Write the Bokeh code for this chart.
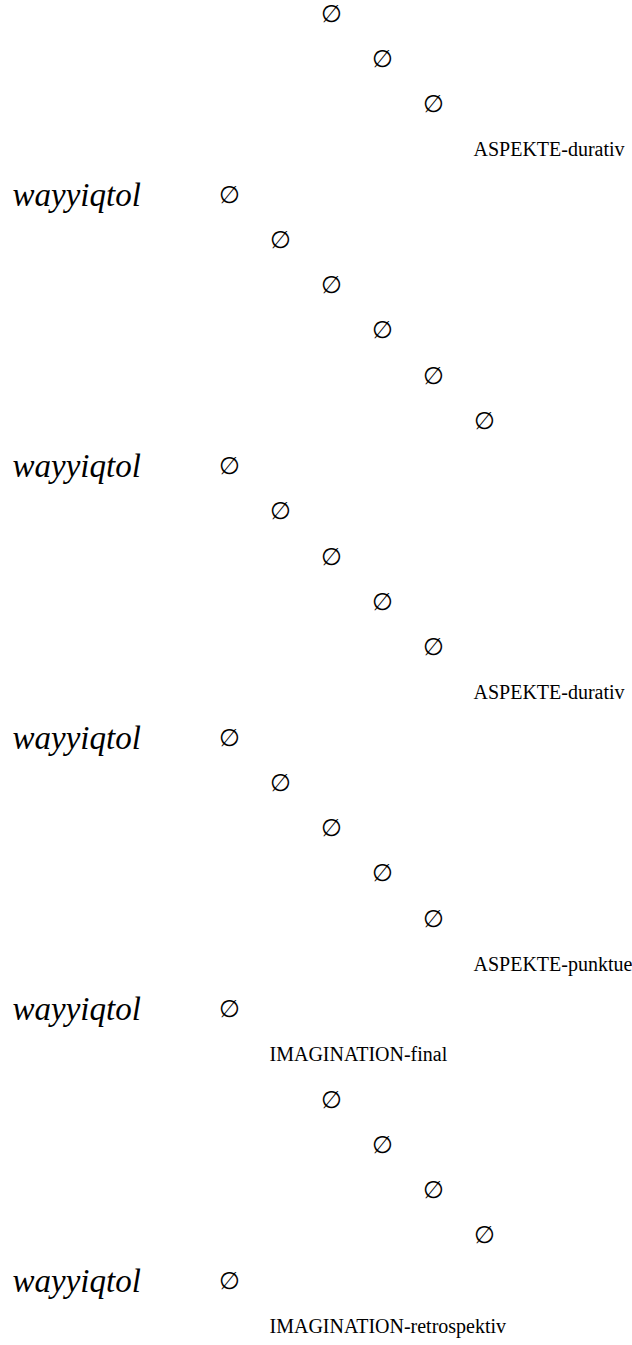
from bokeh.plotting import figure
from bokeh.models import Range1d, ColumnDataSource
from bokeh.core.properties import value
from bokeh.embed import file_html
from bokeh.resources import INLINE

# ---- data ----
# line index (top = 0) and indentation level of each text item
word = "wayyiqtol"
word_lines = [4, 10, 16, 22, 28]

null_sign = "\u2205"
null_lines = [0, 1, 2, 4, 5, 6, 7, 8, 9, 10, 11, 12, 13, 14,
              16, 17, 18, 19, 20, 22, 24, 25, 26, 27, 28]
null_levels = [2, 3, 4, 0, 1, 2, 3, 4, 5, 0, 1, 2, 3, 4,
               0, 1, 2, 3, 4, 0, 2, 3, 4, 5, 0]

label_texts = ["ASPEKTE-durativ", "ASPEKTE-durativ", "ASPEKTE-punktuell",
               "IMAGINATION-final", "IMAGINATION-retrospektiv"]
label_lines = [3, 15, 21, 23, 29]
label_levels = [5, 5, 5, 1, 1]

# ---- layout ----
W, H = 632, 1345
LEVEL_PX = 51.0     # horizontal step of one indentation level
LINE_PX = 45.25     # vertical distance between lines
LEVEL0_PX = 218     # pixel x of level 0 in the figure
LINE0_PX = 13       # pixel y of the first line in the figure

x_range = Range1d(-LEVEL0_PX / LEVEL_PX, (W - LEVEL0_PX) / LEVEL_PX)
y_range = Range1d((H - LINE0_PX) / LINE_PX, -LINE0_PX / LINE_PX)

p = figure(width=W, height=H, x_range=x_range, y_range=y_range,
           output_backend="svg", toolbar_location=None,
           x_axis_location=None, y_axis_location=None,
           min_border=0, outline_line_color=None,
           background_fill_color="white", border_fill_color="white")
p.grid.visible = False

FONT = value("Liberation Serif")

null_src = ColumnDataSource(dict(x=null_levels, y=null_lines,
                                 t=[null_sign] * len(null_lines)))
p.text(x="x", y="y", text="t", source=null_src, text_font=FONT,
       text_font_size="24px", text_baseline="alphabetic", text_align="left",
       text_color="black")

label_src = ColumnDataSource(dict(x=label_levels, y=label_lines, t=label_texts))
p.text(x="x", y="y", text="t", source=label_src, text_font=FONT,
       text_font_size="20px", text_baseline="alphabetic", text_align="left",
       text_color="black")

word_src = ColumnDataSource(dict(x=[x_range.start] * len(word_lines), y=word_lines,
                                 t=[word] * len(word_lines)))
p.text(x="x", y="y", text="t", source=word_src, text_font=FONT,
       text_font_size="33px", text_font_style="italic",
       text_baseline="alphabetic", text_align="left", text_color="black",
       x_offset=12)

open("out.html", "w").write(file_html(p, INLINE))
